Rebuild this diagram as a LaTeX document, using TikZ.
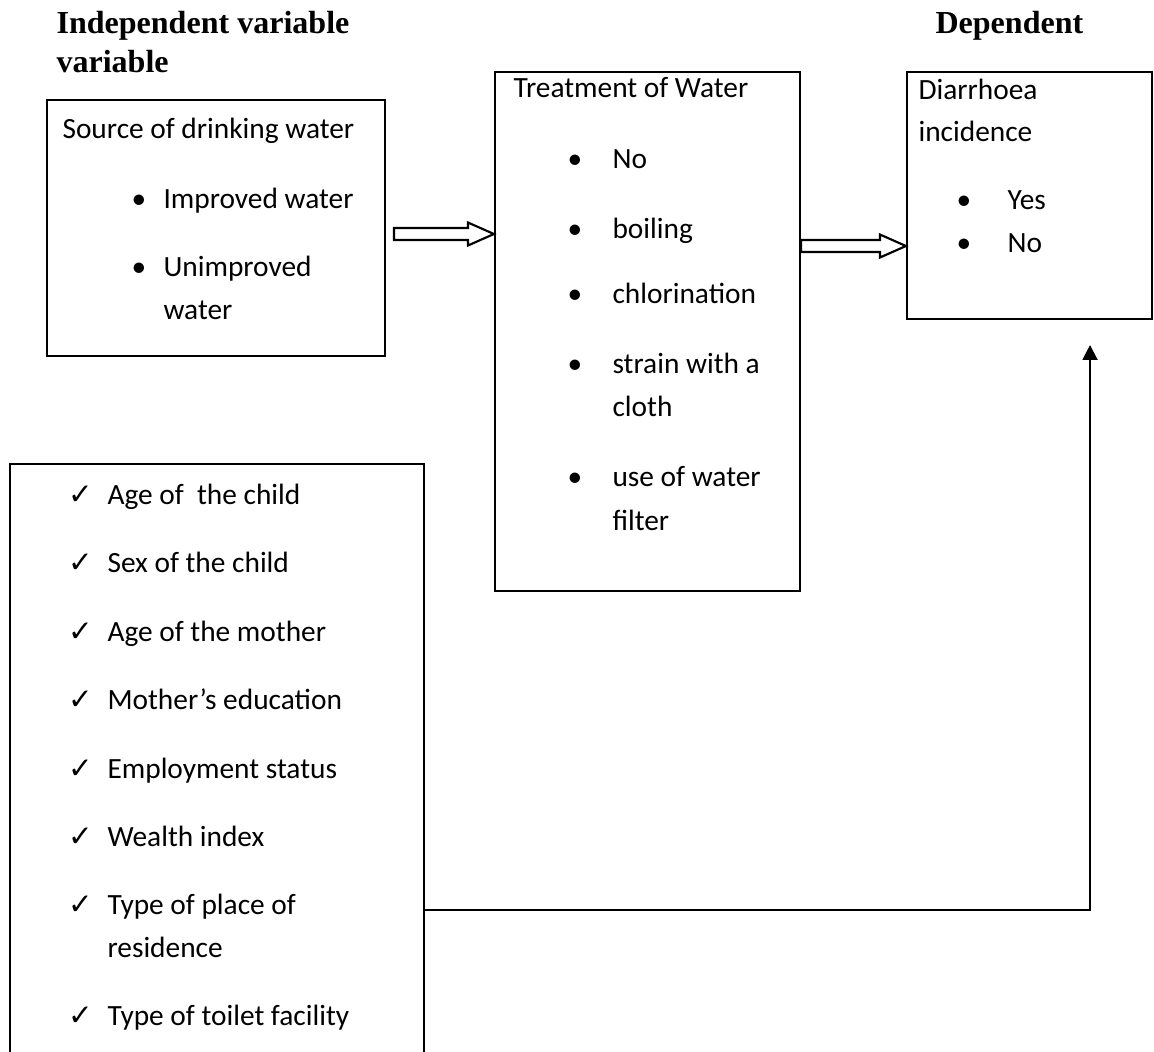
\documentclass[tikz,border=0pt]{standalone}
\usepackage{fontspec}
\setmainfont{Carlito}
\newfontfamily\headfont{Liberation Serif}
\newfontfamily\symfont{DejaVu Sans}
\usetikzlibrary{arrows.meta,fit,calc}
\tikzset{
  box/.style={draw,line width=0.8pt,inner sep=0pt},
  txt/.style={anchor=base west,inner sep=0pt,font=\fontsize{11}{13}\selectfont},
  head/.style={anchor=base west,inner sep=0pt,font=\fontsize{12}{14}\headfont\bfseries},
  hollow/.style={draw,line width=0.8pt,fill=white,line join=miter},
  conn/.style={line width=0.8pt,-{Triangle[length=5.6pt,width=5.6pt]}},
}
% hollow block arrow from #1 to #2 (horizontal)
\newcommand\fatarrow[2]{%
  \draw[hollow] ($(#1)+(0,-6)$) -- ($(#2)+(-26,-6)$) -- ($(#2)+(-26,-11.5)$) -- (#2)
    -- ($(#2)+(-26,11.5)$) -- ($(#2)+(-26,6)$) -- ($(#1)+(0,6)$) -- cycle;}
\begin{document}
\begin{tikzpicture}[x=0.3745pt,y=-0.3745pt]
\useasboundingbox (0,0) rectangle (1154,1051);
\clip (0,0) rectangle (1154,1051);
% headings
\node[head] (h1) at (56,33) {Independent variable};
\node[head] (h2) at (56,72) {variable};
\node[head] (h3) at (935,33) {Dependent};
% boxes
\node[box,fit={(47,100) (385,356)}] (src) {};
\node[box,fit={(495,72) (800,591)}] (trt) {};
\node[box,fit={(907,72) (1152,319)}] (dia) {};
\node[box,fit={(10,464) (424,1080)}] (cov) {};
% source of drinking water
\node[txt] (s0) at (62,138) {Source of drinking water};
\foreach \y/\t [count=\i] in {208/Improved water,276/Unimproved}{
  \node[txt] (sb\i) at (131,\y) {\textbullet};
  \node[txt] (s\i) at (163,\y) {\t};}
\node[txt] (s3) at (163,319) {water};
% treatment of water
\node[txt] (t0) at (513,97) {Treatment of Water};
\foreach \y/\t [count=\i] in {168/No,238/boiling,303/chlorination,373/strain with a,486/use of water}{
  \node[txt] (tb\i) at (567,\y) {\textbullet};
  \node[txt] (t\i) at (612,\y) {\t};}
\node[txt] (t6) at (612,416) {cloth};
\node[txt] (t7) at (612,530) {filter};
% diarrhoea
\node[txt] (d0) at (918,99) {Diarrhoea};
\node[txt] (d1) at (918,141) {incidence};
\foreach \y/\t [count=\i] in {209/Yes,252/No}{
  \node[txt] (db\i) at (956,\y) {\textbullet};
  \node[txt] (dd\i) at (1007,\y) {\t};}
% covariates
\foreach \y/\t [count=\i] in {504/Age of\ \ the child,572/Sex of the child,641/Age of the mother,
  709/Mother’s education,778/Employment status,846/Wealth index,914/Type of place of,1025/Type of toilet facility}{
  \node[txt] (ck\i) at (68,\y) {\symfont ✓};
  \node[txt] (c\i) at (107,\y) {\t};}
\node[txt] (c9) at (107,957) {residence};
% arrows
\coordinate (a1) at (394,234);
\coordinate (b1) at (trt.west |- a1);
\fatarrow{a1}{b1}
\coordinate (a2) at (trt.east |- 0,246);
\coordinate (b2) at (dia.west |- a2);
\fatarrow{a2}{b2}
\coordinate (up) at (1090,345);
\draw[conn] (cov.east |- 0,910) -| (up);
\end{tikzpicture}
\end{document}
